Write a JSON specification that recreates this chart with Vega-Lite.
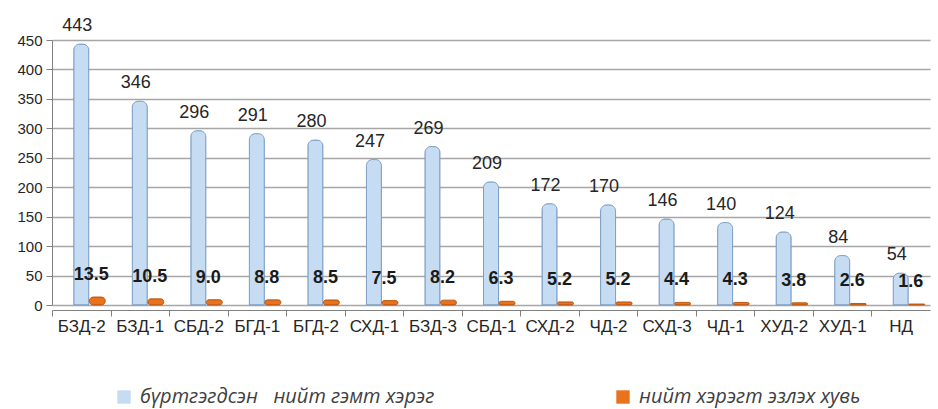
{
  "$schema": "https://vega.github.io/schema/vega-lite/v6.json",
  "width": 878,
  "height": 265,
  "autosize": {"type": "none"},
  "padding": {"left": 52, "top": 40, "right": 8, "bottom": 104},
  "background": "white",
  "config": {"view": {"stroke": null}, "font": "Liberation Sans"},
  "data": {
    "values": [
      {"district": "БЗД-2", "series": "бүртгэгдсэн  нийт гэмт хэрэг", "value": 443},
      {"district": "БЗД-1", "series": "бүртгэгдсэн  нийт гэмт хэрэг", "value": 346},
      {"district": "СБД-2", "series": "бүртгэгдсэн  нийт гэмт хэрэг", "value": 296},
      {"district": "БГД-1", "series": "бүртгэгдсэн  нийт гэмт хэрэг", "value": 291},
      {"district": "БГД-2", "series": "бүртгэгдсэн  нийт гэмт хэрэг", "value": 280},
      {"district": "СХД-1", "series": "бүртгэгдсэн  нийт гэмт хэрэг", "value": 247},
      {"district": "БЗД-3", "series": "бүртгэгдсэн  нийт гэмт хэрэг", "value": 269},
      {"district": "СБД-1", "series": "бүртгэгдсэн  нийт гэмт хэрэг", "value": 209},
      {"district": "СХД-2", "series": "бүртгэгдсэн  нийт гэмт хэрэг", "value": 172},
      {"district": "ЧД-2", "series": "бүртгэгдсэн  нийт гэмт хэрэг", "value": 170},
      {"district": "СХД-3", "series": "бүртгэгдсэн  нийт гэмт хэрэг", "value": 146},
      {"district": "ЧД-1", "series": "бүртгэгдсэн  нийт гэмт хэрэг", "value": 140},
      {"district": "ХУД-2", "series": "бүртгэгдсэн  нийт гэмт хэрэг", "value": 124},
      {"district": "ХУД-1", "series": "бүртгэгдсэн  нийт гэмт хэрэг", "value": 84},
      {"district": "НД", "series": "бүртгэгдсэн  нийт гэмт хэрэг", "value": 54},
      {"district": "БЗД-2", "series": "нийт хэрэгт эзлэх хувь", "value": 13.5},
      {"district": "БЗД-1", "series": "нийт хэрэгт эзлэх хувь", "value": 10.5},
      {"district": "СБД-2", "series": "нийт хэрэгт эзлэх хувь", "value": 9.0},
      {"district": "БГД-1", "series": "нийт хэрэгт эзлэх хувь", "value": 8.8},
      {"district": "БГД-2", "series": "нийт хэрэгт эзлэх хувь", "value": 8.5},
      {"district": "СХД-1", "series": "нийт хэрэгт эзлэх хувь", "value": 7.5},
      {"district": "БЗД-3", "series": "нийт хэрэгт эзлэх хувь", "value": 8.2},
      {"district": "СБД-1", "series": "нийт хэрэгт эзлэх хувь", "value": 6.3},
      {"district": "СХД-2", "series": "нийт хэрэгт эзлэх хувь", "value": 5.2},
      {"district": "ЧД-2", "series": "нийт хэрэгт эзлэх хувь", "value": 5.2},
      {"district": "СХД-3", "series": "нийт хэрэгт эзлэх хувь", "value": 4.4},
      {"district": "ЧД-1", "series": "нийт хэрэгт эзлэх хувь", "value": 4.3},
      {"district": "ХУД-2", "series": "нийт хэрэгт эзлэх хувь", "value": 3.8},
      {"district": "ХУД-1", "series": "нийт хэрэгт эзлэх хувь", "value": 2.6},
      {"district": "НД", "series": "нийт хэрэгт эзлэх хувь", "value": 1.6}
    ]
  },
  "encoding": {
    "x": {
      "field": "district",
      "type": "nominal",
      "sort": null,
      "scale": {"paddingInner": 0, "paddingOuter": 0},
      "axis": {
        "title": null,
        "labelAngle": 0,
        "labelFontSize": 17,
        "labelColor": "#262626",
        "labelPadding": 2,
        "tickSize": 6,
        "tickOffset": -29.27,
        "labelOffset": 29.27,
        "tickColor": "#808080",
        "domainColor": "#808080",
        "offset": 5,
        "grid": false
      }
    },
    "y": {
      "field": "value",
      "type": "quantitative",
      "scale": {"domain": [0, 450], "nice": false},
      "axis": {
        "title": null,
        "values": [0, 50, 100, 150, 200, 250, 300, 350, 400, 450],
        "labelFontSize": 15,
        "labelColor": "#262626",
        "tickSize": 6,
        "tickColor": "#808080",
        "domainColor": "#808080",
        "gridColor": "#a6a6a6",
        "gridWidth": 1.5,
        "labelPadding": 4
      }
    }
  },
  "layer": [
    {
      "transform": [{"filter": "datum.series === 'бүртгэгдсэн  нийт гэмт хэрэг'"}],
      "mark": {"type": "bar", "width": 15, "stroke": "#7d9fc4", "strokeWidth": 1, "cornerRadiusTopLeft": 6, "cornerRadiusTopRight": 6},
      "encoding": {
        "color": {
          "field": "series",
          "type": "nominal",
          "scale": {"domain": ["бүртгэгдсэн  нийт гэмт хэрэг", "нийт хэрэгт эзлэх хувь"], "range": ["#c6dcf2", "#e8731c"]},
          "legend": {
            "title": null,
            "orient": "none",
            "direction": "horizontal",
            "legendX": 62,
            "legendY": 347,
            "symbolType": "square",
            "symbolSize": 180,
            "symbolStrokeWidth": 0,
            "labelFont": "Open Sans",
            "labelFontStyle": "italic",
            "labelFontSize": 20,
            "labelColor": "#404040",
            "labelLimit": 0,
            "labelExpr": "replace(datum.label, '  ', '\u00a0\u00a0\u00a0')",
            "columnPadding": 178,
            "labelOffset": 6
          }
        }
      }
    },
    {
      "transform": [{"filter": "datum.series === 'нийт хэрэгт эзлэх хувь'"}],
      "mark": {"type": "bar", "width": 16, "xOffset": 16, "stroke": "#c05a10", "strokeWidth": 1, "cornerRadius": 4},
      "encoding": {"color": {"field": "series", "type": "nominal"}}
    },
    {
      "transform": [{"filter": "datum.series === 'бүртгэгдсэн  нийт гэмт хэрэг'"}],
      "mark": {"type": "text", "baseline": "bottom", "dy": -9, "dx": -4, "fontSize": 18, "color": "#262626"},
      "encoding": {"text": {"field": "value", "type": "quantitative"}}
    },
    {
      "transform": [{"filter": "datum.series === 'нийт хэрэгт эзлэх хувь'"}],
      "mark": {"type": "text", "baseline": "middle", "dy": -22, "dx": 10, "fontSize": 18, "fontWeight": "bold", "color": "#1a1a1a"},
      "encoding": {"text": {"field": "value", "type": "quantitative", "format": ".1f"}}
    }
  ]
}
